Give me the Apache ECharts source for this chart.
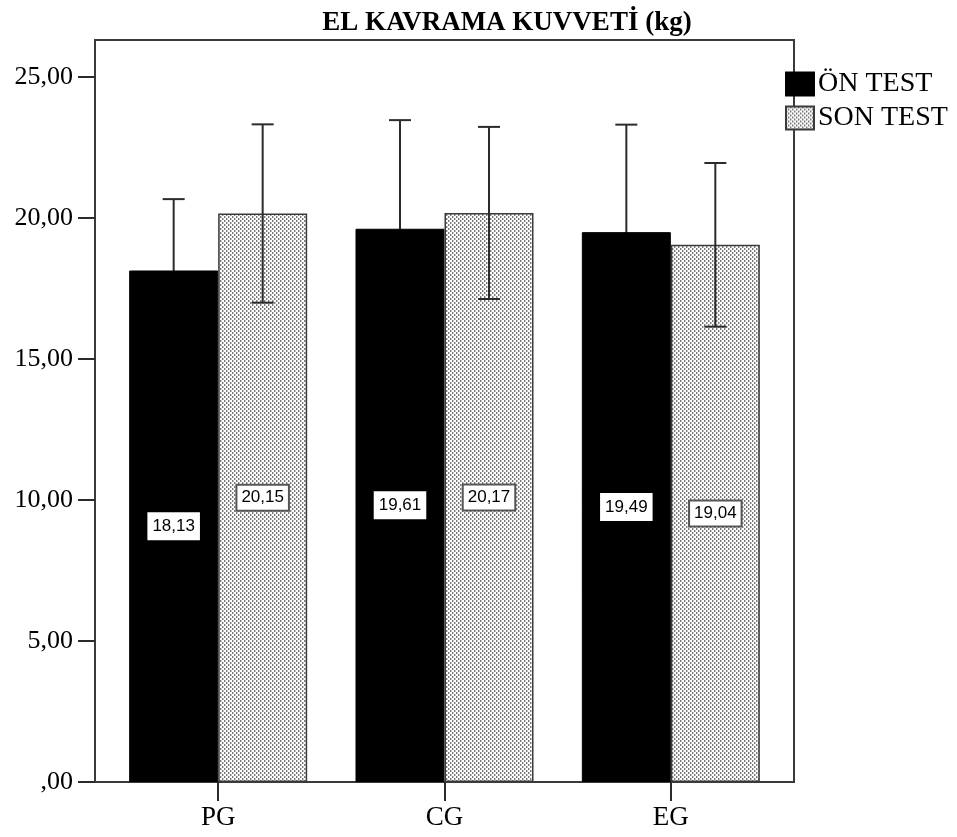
<!DOCTYPE html>
<html>
<head>
<meta charset="utf-8">
<title>EL KAVRAMA KUVVETİ (kg)</title>
<script src="https://cdn.jsdelivr.net/npm/echarts@6/dist/echarts.min.js"></script>
<style>
  html, body { margin: 0; padding: 0; background: #fff; }
  #chart { width: 957px; height: 837px; }
</style>
</head>
<body>
<div id="chart"></div>
<script>
// Groups and measurements (mean ± SD), grip strength in kg
const categories = ['PG', 'CG', 'EG'];
const seriesNames = ['ÖN TEST', 'SON TEST'];
const preMeans = [18.13, 19.61, 19.49];
const postMeans = [20.15, 20.17, 19.04];
const preSD = [2.53, 3.85, 3.81];
const postSD = [3.16, 3.05, 2.90];

const SERIF = '"Liberation Serif", "Times New Roman", serif';
const SANS = '"Liberation Sans", Arial, sans-serif';
const BAR_W = 89;

// Dotted fill used for the post-test bars
function makeDotPattern() {
  const c = document.createElement('canvas');
  c.width = 4; c.height = 4;
  const ctx = c.getContext('2d');
  ctx.fillStyle = '#ffffff';
  ctx.fillRect(0, 0, 4, 4);
  ctx.fillStyle = '#7a7a7a';
  ctx.fillRect(0, 0, 1, 2);
  ctx.fillRect(2, 2, 1, 2);
  ctx.fillStyle = '#c4c4c4';
  ctx.fillRect(1, 0, 1, 2);
  ctx.fillRect(3, 2, 1, 2);
  return c;
}
const dotFill = { image: makeDotPattern(), repeat: 'repeat' };

const fmt = v => (Math.abs(v) < 1e-9 ? ',00' : v.toFixed(2).replace('.', ','));

// Whiskers: side = -1 for the left bar of a group, +1 for the right one
function errorBar(side) {
  return function (params, api) {
    const i = api.value(0), m = api.value(1), sd = api.value(2);
    const c = api.coord([i, m]);
    const x = c[0] + side * BAR_W / 2;
    const yTop = api.coord([i, m + sd])[1];
    const yBot = api.coord([i, m - sd])[1];
    const cap = 11;
    const style = { stroke: '#2b2b2b', lineWidth: 2 };
    return {
      type: 'group',
      children: [
        { type: 'line', shape: { x1: x, y1: yTop, x2: x, y2: yBot }, style },
        { type: 'line', shape: { x1: x - cap, y1: yTop, x2: x + cap, y2: yTop }, style },
        { type: 'line', shape: { x1: x - cap, y1: yBot, x2: x + cap, y2: yBot }, style }
      ]
    };
  };
}

const chart = echarts.init(document.getElementById('chart'));
chart.setOption({
  animation: false,
  backgroundColor: '#fff',
  title: {
    text: 'EL KAVRAMA KUVVETİ (kg)',
    left: 502,
    top: 5,
    textAlign: 'center',
    textStyle: { fontFamily: SERIF, fontWeight: 'bold', fontSize: 27, color: '#000' }
  },
  legend: {
    data: seriesNames,
    icon: 'rect',
    orient: 'vertical',
    left: 785,
    top: 70,
    itemWidth: 28,
    itemHeight: 23,
    itemGap: 6,
    padding: 0,
    textStyle: { fontFamily: SERIF, fontSize: 28, color: '#000', padding: [0, 0, 0, -1] }
  },
  // plot frame
  graphic: [{
    type: 'rect',
    z: 0,
    shape: { x: 95, y: 40, width: 699, height: 742 },
    style: { fill: 'none', stroke: '#3a3a3a', lineWidth: 2 }
  }],
  grid: { left: 105, right: 173, top: 40, bottom: 55 },
  xAxis: {
    type: 'category',
    data: categories,
    axisLine: { show: false },
    axisTick: { show: true, alignWithLabel: true, length: 19, lineStyle: { color: '#2b2b2b', width: 2 } },
    axisLabel: { margin: 22, fontFamily: SERIF, fontSize: 27, color: '#000' },
    splitLine: { show: false }
  },
  yAxis: {
    type: 'value',
    min: 0,
    max: 26.3,
    interval: 5,
    offset: 10,
    axisLine: { show: false },
    axisTick: { show: true, length: 17, lineStyle: { color: '#2b2b2b', width: 2 } },
    axisLabel: {
      margin: 22, fontFamily: SERIF, fontSize: 26, color: '#000',
      showMaxLabel: false, formatter: fmt
    },
    splitLine: { show: false }
  },
  series: [
    {
      name: seriesNames[0],
      type: 'bar',
      data: preMeans,
      barWidth: BAR_W,
      barGap: '0%',
      z: 2,
      itemStyle: { color: '#000', borderColor: '#000', borderWidth: 1 },
      label: {
        show: true, position: 'inside',
        formatter: p => fmt(p.value),
        fontFamily: SANS, fontSize: 17, color: '#000',
        backgroundColor: '#fff', padding: [6, 5, 5, 5]
      }
    },
    {
      name: seriesNames[1],
      type: 'bar',
      data: postMeans,
      barWidth: BAR_W,
      barGap: '0%',
      z: 2,
      itemStyle: { color: dotFill, borderColor: '#3a3a3a', borderWidth: 1.5 },
      label: {
        show: true, position: 'inside',
        formatter: p => fmt(p.value),
        fontFamily: SANS, fontSize: 17, color: '#000',
        backgroundColor: '#fff', borderColor: '#555', borderWidth: 2,
        padding: [4, 4, 3, 4]
      }
    },
    {
      // drawn beneath the solid bars so only the upper whisker shows
      name: 'err-pre',
      type: 'custom',
      renderItem: errorBar(-1),
      encode: { x: 0, y: 1 },
      data: categories.map((c, i) => [i, preMeans[i], preSD[i]]),
      z: 1
    },
    {
      name: 'err-post',
      type: 'custom',
      renderItem: errorBar(1),
      encode: { x: 0, y: 1 },
      data: categories.map((c, i) => [i, postMeans[i], postSD[i]]),
      z: 3
    }
  ]
});
</script>
</body>
</html>
